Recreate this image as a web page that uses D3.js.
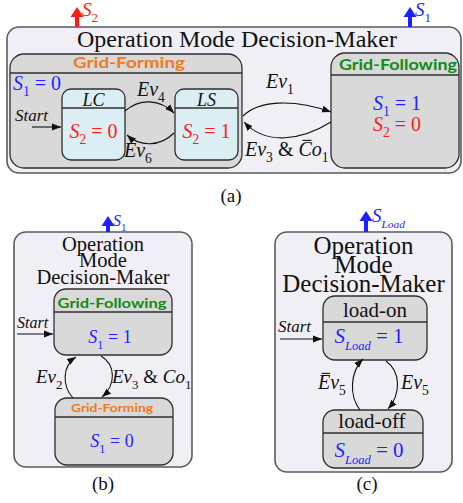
<!DOCTYPE html>
<html>
<head>
<meta charset="utf-8">
<script src="https://cdn.jsdelivr.net/npm/d3@7"></script>
<style>
  html, body { margin: 0; padding: 0; background: #ffffff; }
  svg { display: block; }
</style>
</head>
<body>
<div id="chart"></div>
<script>
// ---------------- data (texts and signal values) ----------------
const panelLabels = ["(a)", "(b)", "(c)"];
const titleLines = ["Operation", "Mode", "Decision-Maker"];
const modeNames = ["Grid-Forming", "Grid-Following"];
const subStateNames = ["LC", "LS"];
const loadStateNames = ["load-on", "load-off"];
const s1Values = [0, 1];        // Grid-Forming, Grid-Following
const s2Values = [0, 1];        // LC, LS
const sLoadValues = [1, 0];     // load-on, load-off
const eventIds = ["1", "3", "4", "6", "2", "5"];
const startLabel = "Start";

// ---------------- styles ----------------
const SERIF = "'Liberation Serif','Times New Roman',serif";
const SANS = "Lato,'Open Sans',sans-serif";
const C = {
  outer: "#f0eff5", outerStroke: "#5a5a5a",
  gray: "#d9d9d9", blue: "#daeef3", stroke: "#2e2e2e",
  red: "#ff1a1a", sblue: "#1f1fff", green: "#138a13", orange: "#f07a1e"
};
const W = 463, H = 503;

const svg = d3.select("#chart").append("svg").attr("width", W).attr("height", H)
  .attr("viewBox", `0 0 ${W} ${H}`);

const defs = svg.append("defs");
defs.append("marker").attr("id", "ah").attr("markerUnits", "userSpaceOnUse")
  .attr("markerWidth", 10).attr("markerHeight", 8).attr("refX", 9).attr("refY", 4)
  .attr("orient", "auto")
  .append("path").attr("d", "M0,0.5 L9,4 L0,7.5 Z").attr("fill", "#111");

// ---------------- helpers ----------------
function box(g, b, fill, stroke, sw) {
  g.append("rect").attr("x", b.x).attr("y", b.y).attr("width", b.w).attr("height", b.h)
    .attr("rx", b.r).attr("ry", b.r).attr("fill", fill).attr("stroke", stroke).attr("stroke-width", sw);
  if (b.hd) {
    g.append("line").attr("x1", b.x).attr("x2", b.x + b.w).attr("y1", b.y + b.hd).attr("y2", b.y + b.hd)
      .attr("stroke", stroke).attr("stroke-width", 1.3);
  }
}
function plain(g, x, y, txt, o) {
  const t = g.append("text").attr("x", x).attr("y", y).text(txt)
    .attr("text-anchor", o.anchor || "middle")
    .style("font-family", o.family || SERIF).style("font-size", o.size + "px")
    .style("font-weight", o.weight || "normal").style("font-style", o.style || "normal")
    .attr("fill", o.color || "#111");
  if (o.len) t.attr("textLength", o.len).attr("lengthAdjust", "spacingAndGlyphs");
  return t;
}
// parts: [text, kind]  kind: i italic, r roman, s subscript roman, si subscript italic, ib italic with overbar
function math(g, x, y, parts, o) {
  const fs = o.size;
  const t = g.append("text").attr("x", x).attr("y", y)
    .attr("text-anchor", o.anchor || "start")
    .style("font-family", SERIF).style("font-size", fs + "px").attr("fill", o.color || "#111");
  let shift = 0, idx = 0;
  const bars = [];
  parts.forEach(([txt, k]) => {
    const ts = t.append("tspan").text(txt);
    const sub = k === "s" || k === "si";
    const target = sub ? fs * 0.32 : 0;
    if (target !== shift) { ts.attr("dy", target - shift); shift = target; }
    ts.style("font-style", (k === "i" || k === "si" || k === "ib") ? "italic" : "normal");
    if (sub) ts.style("font-size", (fs * (o.subScale || 0.68)) + "px");
    if (k === "ib") bars.push(idx);
    idx += txt.length;
  });
  bars.forEach(i => {
    const e = t.node().getExtentOfChar(i);
    g.append("line").attr("x1", e.x + e.width * 0.3).attr("x2", e.x + e.width * 0.98)
      .attr("y1", y - fs * 0.78).attr("y2", y - fs * 0.78)
      .attr("stroke", o.color || "#111").attr("stroke-width", 1.1);
  });
  return t;
}
function curve(g, pts) {
  const p = d3.path();
  p.moveTo(pts[0][0], pts[0][1]);
  p.bezierCurveTo(pts[1][0], pts[1][1], pts[2][0], pts[2][1], pts[3][0], pts[3][1]);
  g.append("path").attr("d", p.toString()).attr("fill", "none").attr("stroke", "#111")
    .attr("stroke-width", 1.1).attr("marker-end", "url(#ah)");
}
function startArrow(g, x1, x2, y, tx, ty, size) {
  g.append("line").attr("x1", x1).attr("x2", x2).attr("y1", y).attr("y2", y)
    .attr("stroke", "#111").attr("stroke-width", 1.1).attr("marker-end", "url(#ah)");
  plain(g, tx, ty, startLabel, { anchor: "start", size: size, style: "italic" });
}
function outArrow(g, x, yTip, yBase, color) {
  const hw = 6.5, hh = 10;
  g.append("line").attr("x1", x).attr("x2", x).attr("y1", yBase).attr("y2", yTip + hh - 1)
    .attr("stroke", color).attr("stroke-width", 4);
  g.append("path").attr("d", `M${x},${yTip} L${x + hw},${yTip + hh} L${x - hw},${yTip + hh} Z`).attr("fill", color);
}
function sym(name) { return name === "Load" ? [["S", "i"], ["Load", "si"]] : [["S", "i"], [name, "s"]]; }
function eq(name, v) { return sym(name).concat([[" = " + v, "r"]]); }

// ---------------- panel (a) ----------------
const A = {
  outer: { x: 7, y: 27, w: 454, h: 146, r: 12 },
  gfm: { x: 10, y: 54, w: 232, h: 114, r: 14, hd: 19 },
  gfl: { x: 331, y: 53, w: 128, h: 115, r: 14, hd: 22 },
  lc: { x: 62, y: 89, w: 63, h: 71, r: 9, hd: 19 },
  ls: { x: 175, y: 89, w: 63, h: 71, r: 9, hd: 19 }
};
const ga = svg.append("g");
box(ga, A.outer, C.outer, C.outerStroke, 1.6);
outArrow(ga, 77, 7, 27, C.red);
math(ga, 82, 16, sym("2"), { size: 19, color: C.red });
outArrow(ga, 410, 7, 27, C.sblue);
math(ga, 415, 16, sym("1"), { size: 19, color: C.sblue });
plain(ga, 237, 47, titleLines.join(" "), { size: 23.5, len: 320 });

box(ga, A.gfm, C.gray, C.stroke, 1.3);
plain(ga, 129, 68, modeNames[0], { family: SANS, weight: "bold", size: 15.5, color: C.orange, len: 112 });
math(ga, 13, 90, eq("1", s1Values[0]), { size: 20, color: C.sblue });

box(ga, A.gfl, C.gray, C.stroke, 1.3);
plain(ga, 398, 70, modeNames[1], { family: SANS, weight: "bold", size: 15.5, color: C.green, len: 118 });
math(ga, 397, 110, eq("1", s1Values[1]), { size: 20, color: C.sblue, anchor: "middle" });
math(ga, 397, 131, eq("2", 0), { size: 20, color: C.red, anchor: "middle" });

box(ga, A.lc, C.blue, C.stroke, 1.3);
box(ga, A.ls, C.blue, C.stroke, 1.3);
plain(ga, 93.5, 106, subStateNames[0], { size: 18, style: "italic" });
plain(ga, 206.5, 106, subStateNames[1], { size: 18, style: "italic" });
math(ga, 93.5, 138, eq("2", s2Values[0]), { size: 20, color: C.red, anchor: "middle" });
math(ga, 206.5, 138, eq("2", s2Values[1]), { size: 20, color: C.red, anchor: "middle" });

startArrow(ga, 32, 61, 127, 15, 121, 17);
curve(ga, [[125, 111], [140, 98], [160, 99], [174, 113]]);
math(ga, 137, 96, [["Ev", "i"], [eventIds[2], "s"]], { size: 20 });
curve(ga, [[174, 133], [160, 147], [140, 147], [127, 135]]);
math(ga, 124, 157, [["Ev", "i"], [eventIds[3], "s"]], { size: 20 });

curve(ga, [[243, 116], [258, 101], [292, 98], [331, 112]]);
math(ga, 266, 88, [["Ev", "i"], [eventIds[0], "s"]], { size: 20 });
curve(ga, [[331, 122], [302, 140], [266, 146], [244, 122]]);
math(ga, 245, 156, [["Ev", "i"], [eventIds[1], "s"], [" & ", "r"], ["C", "ib"], ["o", "i"], ["1", "s"]], { size: 20 });

plain(ga, 231, 202, panelLabels[0], { size: 19 });

// ---------------- panel (b) ----------------
const B = {
  outer: { x: 14, y: 232, w: 178, h: 235, r: 12 },
  gfl: { x: 54, y: 289, w: 118, h: 66, r: 12, hd: 23 },
  gfm: { x: 55, y: 398, w: 118, h: 67, r: 12, hd: 19 }
};
const gb = svg.append("g");
box(gb, B.outer, C.outer, C.outerStroke, 1.6);
outArrow(gb, 108, 216, 232, C.sblue);
math(gb, 113, 226, sym("1"), { size: 16, color: C.sblue });
[251, 267, 283.5].forEach((y, i) => plain(gb, 103, y, titleLines[i], { size: 20.5 }));
box(gb, B.gfl, C.gray, C.stroke, 1.3);
plain(gb, 112, 308, modeNames[1], { family: SANS, weight: "bold", size: 14, color: C.green, len: 109 });
math(gb, 110, 343, eq("1", s1Values[1]), { size: 18, color: C.sblue, anchor: "middle" });
box(gb, B.gfm, C.gray, C.stroke, 1.3);
plain(gb, 112, 412, modeNames[0], { family: SANS, weight: "bold", size: 12, color: C.orange, len: 82 });
math(gb, 112, 447, eq("1", s1Values[0]), { size: 18, color: C.sblue, anchor: "middle" });
startArrow(gb, 17, 53, 334, 17, 328, 16);
curve(gb, [[73, 398], [62, 386], [62, 366], [76, 357]]);
math(gb, 36, 383, [["Ev", "i"], [eventIds[4], "s"]], { size: 19 });
curve(gb, [[101, 356], [116, 365], [116, 385], [102, 397]]);
math(gb, 112, 383, [["Ev", "i"], [eventIds[1], "s"], [" & ", "r"], ["Co", "i"], ["1", "s"]], { size: 19 });
plain(gb, 103, 490, panelLabels[1], { size: 19 });

// ---------------- panel (c) ----------------
const Cc = {
  outer: { x: 275, y: 232, w: 177, h: 240, r: 12 },
  on: { x: 323, y: 296, w: 104, h: 64, r: 12, hd: 26 },
  off: { x: 323, y: 410, w: 100, h: 58, r: 12, hd: 23 }
};
const gc = svg.append("g");
box(gc, Cc.outer, C.outer, C.outerStroke, 1.6);
outArrow(gc, 366, 211, 232, C.sblue);
math(gc, 372, 222, sym("Load"), { size: 19, color: C.sblue, subScale: 0.6 });
[254, 273, 292].forEach((y, i) => plain(gc, 363.5, y, titleLines[i], { size: 25 }));
box(gc, Cc.on, C.gray, C.stroke, 1.3);
plain(gc, 375, 317, loadStateNames[0], { size: 21 });
math(gc, 369, 343, eq("Load", sLoadValues[0]), { size: 21, color: C.sblue, anchor: "middle", subScale: 0.6 });
box(gc, Cc.off, C.gray, C.stroke, 1.3);
plain(gc, 372, 428, loadStateNames[1], { size: 21 });
math(gc, 369, 457, eq("Load", sLoadValues[1]), { size: 21, color: C.sblue, anchor: "middle", subScale: 0.6 });
startArrow(gc, 280, 322, 339, 278, 332, 17);
curve(gc, [[360, 410], [349, 396], [350, 372], [363, 359]]);
math(gc, 318, 389, [["E", "ib"], ["v", "i"], [eventIds[5], "s"]], { size: 20 });
curve(gc, [[386, 361], [401, 372], [401, 394], [388, 409]]);
math(gc, 401, 389, [["Ev", "i"], [eventIds[5], "s"]], { size: 20 });
plain(gc, 367, 490, panelLabels[2], { size: 19 });
</script>
</body>
</html>
